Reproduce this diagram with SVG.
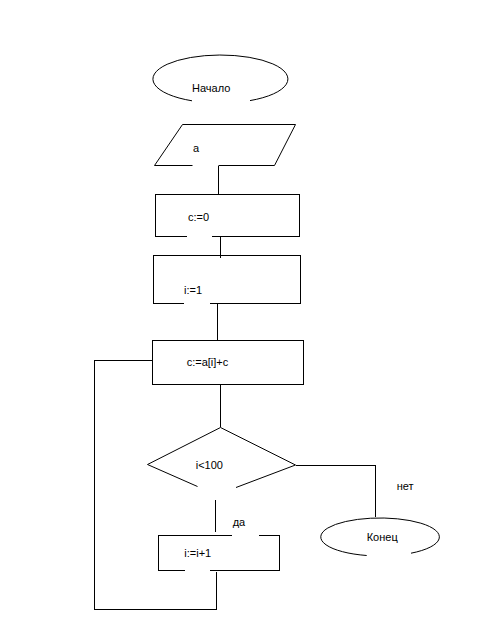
<svg xmlns="http://www.w3.org/2000/svg" width="486" height="640" viewBox="0 0 486 640">
<style>
.s{fill:none;stroke:#000;stroke-width:1}
.c{fill:none;stroke:#000;stroke-width:1;shape-rendering:crispEdges}
text{font-family:"Liberation Sans",Arial,sans-serif;font-size:11px;fill:#000}
</style>
<rect width="486" height="640" fill="#fff"/>
<g id="start">
<path class="s" d="M192,100.8 A67.5,24 0 1 1 250,100.6"/>
<text x="192" y="92">Начало</text>
</g>
<g id="input">
<path class="s" d="M218.5,165.5 H274.5 L295.5,124.5 H182.5 L154.5,165.5 H192.5"/>
<text x="193" y="152">a</text>
</g>
<g id="init_c">
<path class="c" d="M186.5,236.5 H155.5 V194.5 H299.5 V236.5 H211.5"/>
<text x="188" y="220.5">c:=0</text>
</g>
<g id="init_i">
<path class="c" d="M183.5,303.5 H153.5 V255.5 H300.5 V303.5 H209.5"/>
<text x="184" y="294">i:=1</text>
</g>
<g id="body">
<rect class="c" x="152.5" y="340.5" width="151" height="44"/>
<text x="186.7" y="366">c:=a[i]+c</text>
</g>
<g id="decision">
<path class="s" d="M197.5,486.5 L147.5,464.5 L220.5,427.5 L295.5,465 L236,487.5"/>
<text x="195.7" y="469">i&lt;100</text>
</g>
<g id="increment">
<path class="c" d="M231.5,535.5 H158.5 V570.5 H184.5 M209.5,570.5 H279.5 V535.5 H258.5"/>
<text x="184.3" y="556.5">i:=i+1</text>
</g>
<g id="end">
<path class="s" d="M366.7,555.5 A59.3,19 0 1 1 411,553.2"/>
<text x="366.7" y="540.5">Конец</text>
</g>
<g id="connectors">
<path class="c" d="M218.5,166 V194"/>
<path class="c" d="M220.5,236 V258"/>
<path class="c" d="M217.5,303 V341"/>
<path class="c" d="M220.5,384 V427"/>
<path class="c" d="M295.5,465.5 H375.5 V517"/>
<path class="c" d="M215.5,500 V532"/>
<path class="c" d="M216.5,572 V609.5 H94.5 V360.5 H152.5"/>
<text x="396.7" y="490">нет</text>
<text x="232.7" y="525.5">да</text>
</g>
</svg>
